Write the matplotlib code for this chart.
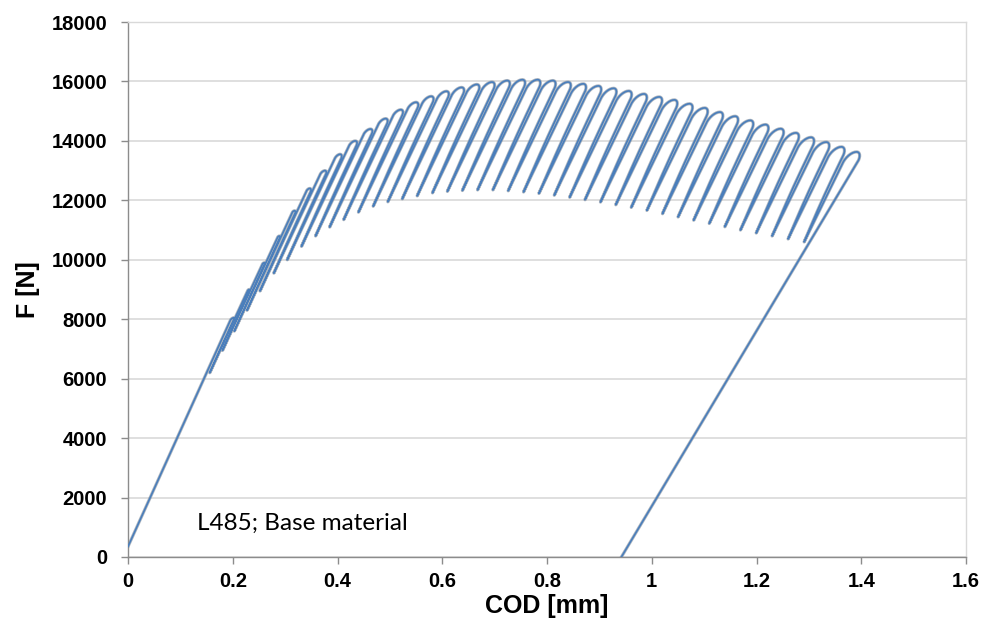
import numpy as np
import matplotlib
matplotlib.use("Agg")
import matplotlib.pyplot as plt

# ---- test record: load line start, cycle peaks, cycle minima, final unloading ----
start_cod = 0.0
start_force = 350.0

peak_cod = [0.202, 0.231, 0.260, 0.289, 0.318, 0.347, 0.376, 0.405, 0.434, 0.463,
            0.492, 0.521, 0.550, 0.579, 0.608, 0.637, 0.666, 0.695, 0.724, 0.753,
            0.782, 0.811, 0.840, 0.869, 0.898, 0.927, 0.956, 0.985, 1.014, 1.043,
            1.072, 1.101, 1.130, 1.159, 1.188, 1.217, 1.246, 1.275, 1.304, 1.333,
            1.362, 1.391]
peak_force = [8050, 9000, 9900, 10800, 11650, 12400, 13000, 13550, 14000, 14400,
              14750, 15050, 15300, 15500, 15670, 15800, 15900, 15980, 16030, 16060,
              16060, 16030, 15980, 15920, 15850, 15770, 15680, 15580, 15480, 15380,
              15250, 15110, 14970, 14830, 14690, 14550, 14410, 14270, 14120, 13960,
              13800, 13630]
valley_force = [6200, 6950, 7600, 8300, 8950, 9550, 10000, 10450, 10800, 11100,
                11350, 11600, 11800, 11950, 12050, 12150, 12250, 12300, 12330, 12350,
                12350, 12320, 12280, 12230, 12170, 12100, 12020, 11940, 11850, 11760,
                11660, 11550, 11440, 11330, 11220, 11110, 11000, 10900, 10800, 10700,
                10600, 10500]
residual_cod = 0.942

xtick_values = [0, 0.2, 0.4, 0.6, 0.8, 1.0, 1.2, 1.4, 1.6]
xtick_labels = ["0", "0.2", "0.4", "0.6", "0.8", "1", "1.2", "1.4", "1.6"]
ytick_values = [0, 2000, 4000, 6000, 8000, 10000, 12000, 14000, 16000, 18000]
ytick_labels = [str(v) for v in ytick_values]

stiffness = 39000.0   # N/mm, elastic unloading / reloading slope


def build_curve():
    """Assemble the load-COD trace: loading, rounded peaks, unloading, reloading."""
    xs, fs = [start_cod], [start_force]
    x0, f0, comp = start_cod, start_force, 1.0 / stiffness   # current reload line
    n = len(peak_cod)
    for i in range(n):
        xp, fp, fv = peak_cod[i], peak_force[i], valley_force[i]
        # plastic increment towards the next peak
        if i < n - 1:
            dpl = (peak_cod[i + 1] - xp) - (peak_force[i + 1] - fp) / stiffness
        else:
            dpl = (xp - peak_cod[i - 1]) - (fp - peak_force[i - 1]) / stiffness
        dpl = max(dpl, 0.002)
        # left side of the peak: reload line bending over
        p = xp - (x0 + (fp - f0) * comp)
        p = max(p, 0.0008)
        h = float(np.clip(0.6 * p * stiffness, 60, 380))
        xs.append(x0 + (fp - h - f0) * comp)
        fs.append(fp - h)
        phi = np.linspace(0, np.pi / 2, 16)[1:]
        fl = fp - h + h * np.sin(phi)
        xl = x0 + (fl - f0) * comp + p * (1 - np.cos(phi))
        xl += (xp - xl[-1]) * (1 - np.cos(phi))
        xs.extend(xl)
        fs.extend(fl)
        # right side of the peak: turning into the unloading line
        b = 0.33 * dpl
        h2 = float(np.clip(0.65 * b * stiffness, 50, 300))
        psi = np.linspace(0, np.pi / 2, 14)[1:]
        fr = fp - h2 * (1 - np.cos(psi))
        xr = xp + b * np.sin(psi) - (fp - fr) / stiffness
        xs.extend(xr)
        fs.extend(fr)
        if i == n - 1:
            xs.append(residual_cod)
            fs.append(0.0)
            break
        # unloading to the cycle minimum, slightly bowed
        xv = xp + b - (fp - fv) / stiffness
        delta = 0.2 * dpl
        t = np.linspace(0, 1, 12)[1:]
        fu = fr[-1] + (fv - fr[-1]) * t
        xu = xr[-1] + (xv - xr[-1]) * t - 0.25 * delta * np.sin(np.pi * t)
        xs.extend(xu)
        fs.extend(fu)
        # reloading line with a little hysteresis opening
        x0, f0 = xv, fv
        comp = 1.0 / stiffness + delta / (fp - fv)
    return np.array(xs), np.array(fs)


cod, force = build_curve()

plt.rcParams["font.family"] = ["Liberation Sans", "DejaVu Sans"]
fig = plt.figure(figsize=(9.89, 6.37), dpi=100)
ax = fig.add_axes([128 / 989, 1 - 557 / 637, (966 - 128) / 989, (557 - 22) / 637])

# grey halo under the trace, then the blue trace
ax.plot(cod, force, color="#8E99A6", lw=2.3, alpha=0.7,
        solid_joinstyle="round", zorder=2)
ax.plot(cod, force, color="#4A7EBB", lw=1.2, solid_joinstyle="round", zorder=3)

ax.set_xlim(0, 1.6)
ax.set_ylim(0, 18000)
ax.set_xticks(xtick_values)
ax.set_xticklabels(xtick_labels)
ax.set_yticks(ytick_values)
ax.set_yticklabels(ytick_labels)
ax.grid(axis="y", color="#D9D9D9", lw=1.2, zorder=0)
ax.set_axisbelow(True)
for side in ["left", "bottom"]:
    ax.spines[side].set_color("#8C8C8C")
    ax.spines[side].set_linewidth(1.0)
for side in ["top", "right"]:
    ax.spines[side].set_color("#D9D9D9")
    ax.spines[side].set_linewidth(1.0)
ax.tick_params(axis="both", direction="out", length=5, width=1.0, color="#8C8C8C",
               labelsize=14.5)
ax.tick_params(axis="y", pad=10)
ax.tick_params(axis="x", pad=6)
for lab in ax.get_xticklabels() + ax.get_yticklabels():
    lab.set_fontweight("bold")

ax.set_xlabel("COD [mm]", fontsize=18, fontweight="bold", labelpad=2)
ax.set_ylabel("F [N]", fontsize=18, fontweight="bold", labelpad=8)

ax.text(0.1316, 1144, "L485; Base material", fontsize=17.5, family=["Lato", "DejaVu Sans"],
        va="center", ha="left", color="#000000")

fig.savefig("out.png", dpi=100)
